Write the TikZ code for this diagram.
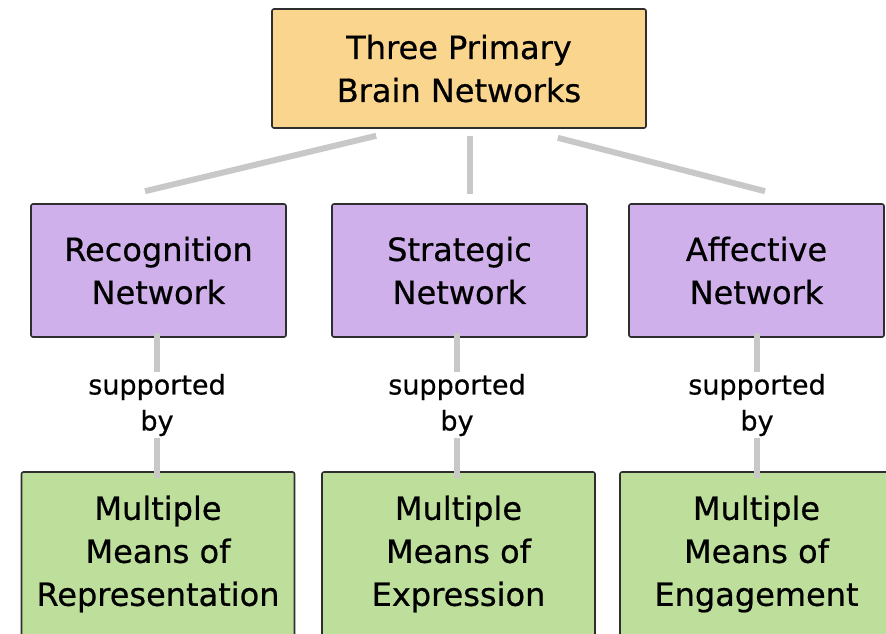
\documentclass[tikz,border=0pt]{standalone}
\usepackage{fontspec}
\setmainfont{DejaVu Sans}[FakeBold=0.6]
\usetikzlibrary{calc}

\definecolor{topfill}{HTML}{F9D58E}
\definecolor{netfill}{HTML}{CFB0EA}
\definecolor{meansfill}{HTML}{BEDF9B}
\definecolor{linkgray}{HTML}{C8C8C8}
\definecolor{boxline}{HTML}{2E2E2E}

\begin{document}
\begin{tikzpicture}[x=1pt,y=-1pt,
  box/.style={draw=boxline, line width=1.6pt, rounded corners=2pt, align=center,
    inner sep=0pt, font=\fontsize{32}{43}\selectfont},
  topbox/.style={box, fill=topfill, minimum width=374pt, minimum height=119pt},
  netbox/.style={box, fill=netfill, minimum width=255pt, minimum height=133pt},
  meansbox/.style={box, fill=meansfill, minimum width=273pt, minimum height=164pt},
  suplabel/.style={align=center, inner sep=2pt, font=\fontsize{27}{36}\selectfont},
  link/.style={draw=linkgray, line width=6pt}]
  \useasboundingbox (0,0) rectangle (886,633);
  \clip (0,0) rectangle (886,633);

  % top
  \node[topbox] (brain) at (459,68.5) {Three Primary\\Brain Networks};

  % networks
  \node[netbox] (recog) at (158.5,270.5) {Recognition\\Network};
  \node[netbox] (strat) at (459.5,270.5) {Strategic\\Network};
  \node[netbox] (affect) at (756.5,270.5) {Affective\\Network};

  % means
  \node[meansbox] (repr) at (158,554) {Multiple\\Means of\\Representation};
  \node[meansbox] (expr) at (458.5,554) {Multiple\\Means of\\Expression};
  \node[meansbox] (engage) at (756.5,554) {Multiple\\Means of\\Engagement};

  % labels
  \node[suplabel] (sup1) at (157,405) {supported\\by};
  \node[suplabel] (sup2) at (457,405) {supported\\by};
  \node[suplabel] (sup3) at (757,405) {supported\\by};

  % links to the top box
  \draw[link] ($(brain.south west)+(105,7)$) -- ($(recog.north)+(-13.5,-12)$);
  \draw[link] ($(brain.south)+(11,7)$) -- ($(strat.north)+(10.5,-9)$);
  \draw[link] ($(brain.south east)+(-89,9)$) -- ($(affect.north)+(8.5,-12)$);

  % supported by
  \draw[link] ([yshift=5]recog.south -| sup1) -- (sup1.north);
  \draw[link] (sup1.south) -- ([yshift=-7]repr.north -| sup1);
  \draw[link] ([yshift=5]strat.south -| sup2) -- (sup2.north);
  \draw[link] (sup2.south) -- ([yshift=-7]expr.north -| sup2);
  \draw[link] ([yshift=5]affect.south -| sup3) -- (sup3.north);
  \draw[link] (sup3.south) -- ([yshift=-7]engage.north -| sup3);
\end{tikzpicture}
\end{document}
